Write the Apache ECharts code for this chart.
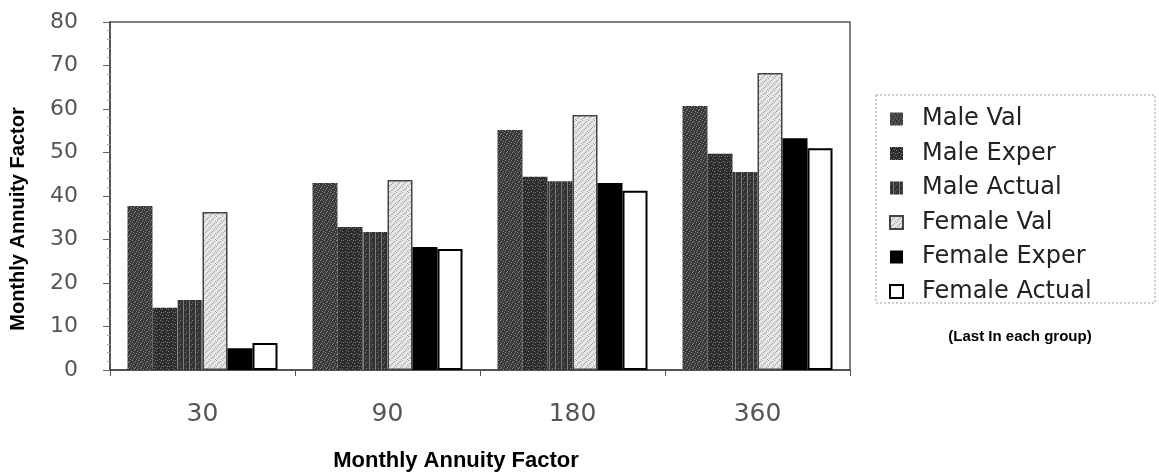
<!DOCTYPE html>
<html>
<head>
<meta charset="utf-8">
<script src="https://cdn.jsdelivr.net/npm/echarts@6/dist/echarts.min.js"></script>
<style>
html,body{margin:0;padding:0;background:#fff;}
#chart{width:1159px;height:475px;}
</style>
</head>
<body>
<div id="chart"></div>
<script>
// ---- data ----
const categories = ['30', '90', '180', '360'];
const seriesNames = ['Male Val', 'Male Exper', 'Male Actual', 'Female Val', 'Female Exper', 'Female Actual'];
const maleVal = [37.7, 43.0, 55.2, 60.7];
const maleExper = [14.3, 32.9, 44.4, 49.7];
const maleActual = [16.1, 31.7, 43.4, 45.5];
const femaleVal = [36.3, 43.7, 58.6, 68.3];
const femaleExper = [5.0, 28.3, 43.0, 53.3];
const femaleActual = [6.2, 27.8, 41.2, 51.0];
const yMin = 0, yMax = 80, yStep = 10;
const xTitle = 'Monthly Annuity Factor';
const yTitle = 'Monthly Annuity Factor';
const note = '(Last In each group)';

// ---- stipple patterns (fixed tiles) ----
function pattern(bg, fg, dots, size) {
  const c = document.createElement('canvas');
  c.width = size; c.height = size;
  const g = c.getContext('2d');
  g.fillStyle = bg; g.fillRect(0, 0, size, size);
  g.fillStyle = fg;
  dots.forEach(function (d) { g.fillRect(d[0], d[1], d[2] || 1, d[3] || 1); });
  return { image: c, repeat: 'repeat' };
}
const tileA = [[0,0],[3,1],[5,3],[1,4],[4,5],[2,2]];
const tileB = [[1,0],[4,2],[0,3],[3,5],[5,0]];
const stripes = [[3,0,1,6],[0,2],[5,4]];
const light = [[0,0],[3,2],[1,4],[5,5],[4,1],[2,3]];

const fills = [
  pattern('#3a3a3a', '#8a8a8a', tileA, 6),
  pattern('#2c2c2c', '#7a7a7a', tileB, 6),
  pattern('#333333', '#7d7d7d', stripes, 6),
  pattern('#e6e6e6', '#a0a0a0', light, 6),
  '#000000',
  '#ffffff'
];
const borders = [null, null, null, '#444', null, '#000'];
const borderWidths = [0, 0, 0, 1.5, 0, 2];
const dataSets = [maleVal, maleExper, maleActual, femaleVal, femaleExper, femaleActual];

const series = seriesNames.map(function (name, i) {
  return {
    name: name,
    type: 'bar',
    barWidth: 25,
    barGap: '0%',
    data: dataSets[i],
    itemStyle: {
      color: fills[i],
      borderColor: borders[i] || 'transparent',
      borderWidth: borderWidths[i]
    },
    emphasis: { disabled: true }
  };
});

const chart = echarts.init(document.getElementById('chart'), null, { renderer: 'canvas' });
chart.setOption({
  animation: false,
  backgroundColor: '#ffffff',
  grid: {
    left: 110, right: 309, top: 22, bottom: 105,
    show: true, borderColor: '#555', borderWidth: 1.5, backgroundColor: 'transparent'
  },
  xAxis: {
    type: 'category',
    data: categories,
    axisLine: { lineStyle: { color: '#444', width: 1.5 } },
    axisTick: { show: true, length: 6, lineStyle: { color: '#555' } },
    axisLabel: { margin: 32, fontSize: 25, color: '#555', fontFamily: 'DejaVu Sans' }
  },
  yAxis: {
    type: 'value',
    min: yMin, max: yMax, interval: yStep,
    axisLine: { show: true, lineStyle: { color: '#444', width: 1.5 } },
    axisTick: { show: true, length: 7, lineStyle: { color: '#666' } },
    minorTick: { show: true, splitNumber: 5, length: 3, lineStyle: { color: '#aaa' } },
    splitLine: { show: false },
    axisLabel: { margin: 32, fontSize: 22, color: '#555', fontFamily: 'DejaVu Sans' }
  },
  legend: {
    orient: 'vertical',
    left: 889, top: 107,
    itemWidth: 13, itemHeight: 13,
    itemGap: 10.5,
    padding: 0,
    icon: 'rect',
    selectedMode: false,
    data: seriesNames,
    textStyle: {
      fontSize: 24, lineHeight: 24, color: '#222', fontFamily: 'DejaVu Sans',
      padding: [0, 0, 0, 14]
    }
  },
  graphic: [
    {
      type: 'rect', silent: true,
      shape: { x: 876, y: 95, width: 279, height: 208 },
      style: { fill: 'none', stroke: '#999', lineWidth: 1, lineDash: [2, 2] }
    },
    {
      type: 'text', silent: true,
      x: 1020, y: 337,
      style: { text: note, fontSize: 15, fontWeight: 'bold', fill: '#000',
        fontFamily: 'Liberation Sans', align: 'center', verticalAlign: 'middle' }
    },
    {
      type: 'text', silent: true,
      x: 456, y: 461,
      style: { text: xTitle, fontSize: 22, fontWeight: 'bold', fill: '#000',
        fontFamily: 'Liberation Sans', align: 'center', verticalAlign: 'middle' }
    },
    {
      type: 'text', silent: true,
      x: 18, y: 219, rotation: Math.PI / 2,
      style: { text: yTitle, fontSize: 20, fontWeight: 'bold', fill: '#000',
        fontFamily: 'Liberation Sans', align: 'center', verticalAlign: 'middle' }
    }
  ],
  series: series
});
</script>
</body>
</html>
